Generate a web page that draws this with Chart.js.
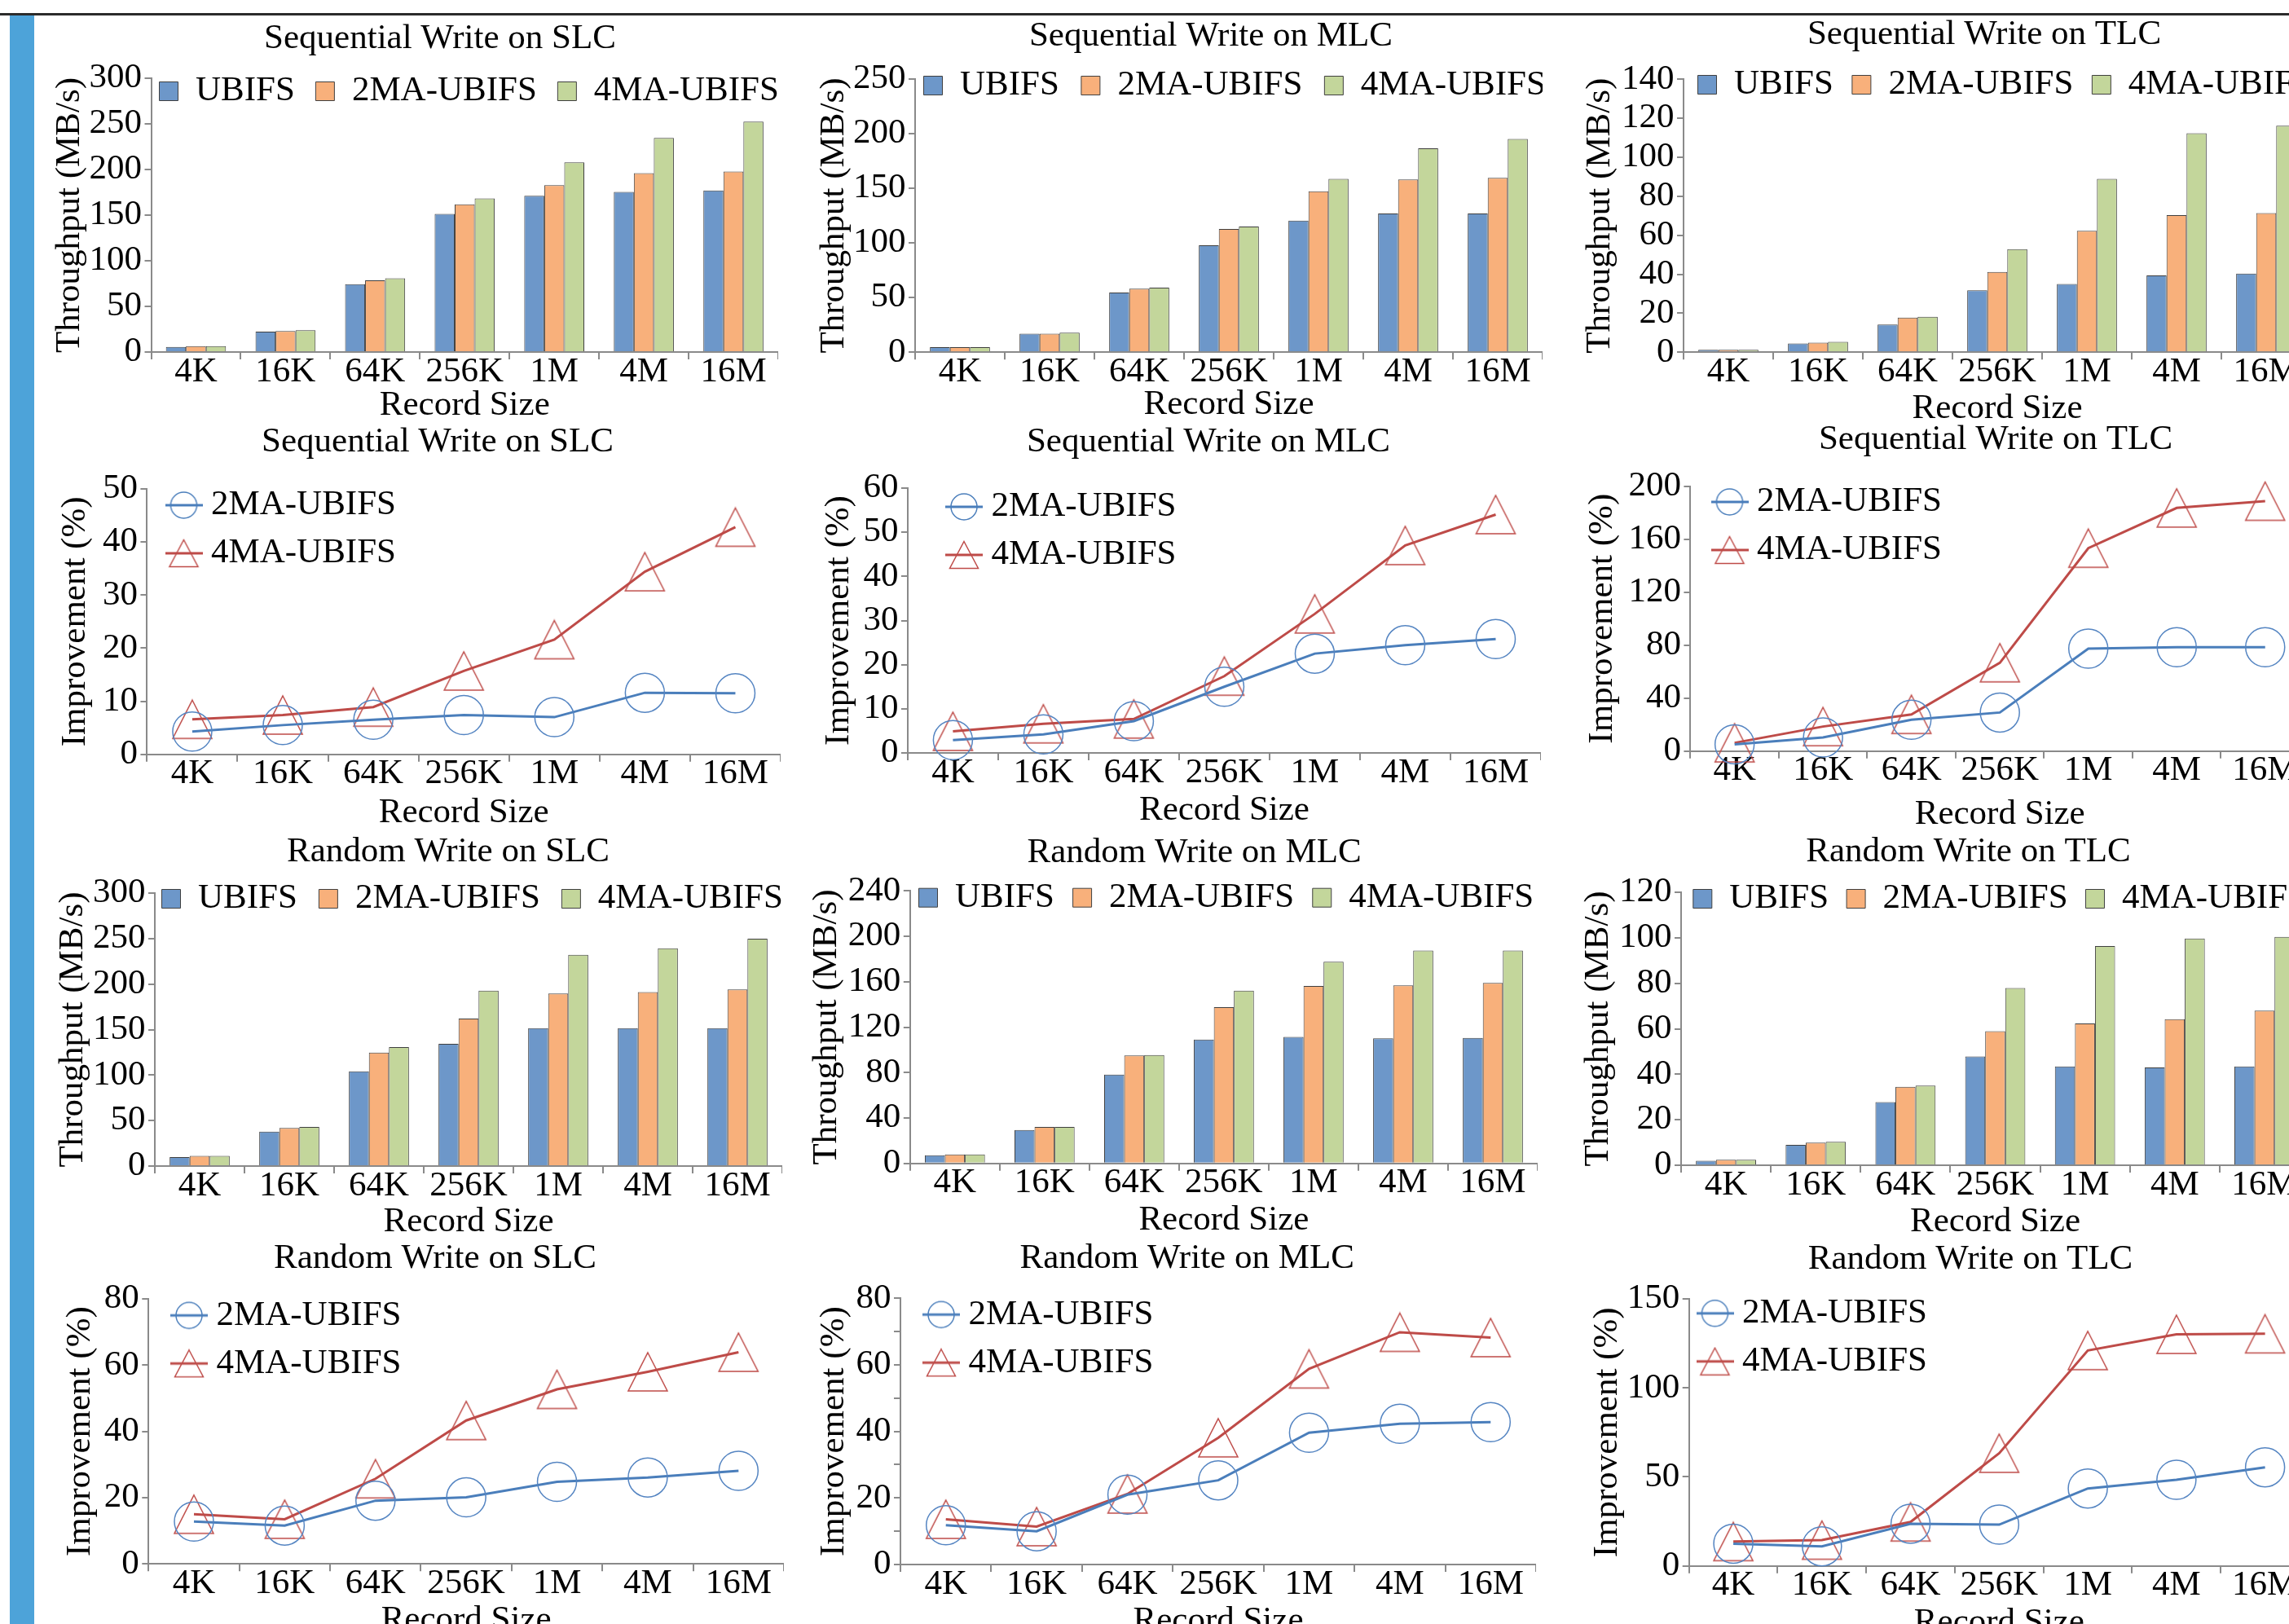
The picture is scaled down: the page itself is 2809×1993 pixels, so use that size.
<!DOCTYPE html>
<html>
<head>
<meta charset="utf-8">
<script src="https://cdn.jsdelivr.net/npm/chart.js@4.4.1/dist/chart.umd.min.js"></script>
<style>
html, body { margin: 0; padding: 0; width: 2809px; height: 1993px; overflow: hidden; background: #fff; }
#page { position: relative; width: 2809px; height: 1993px; overflow: hidden; background: #fff; }
#topRule { position: absolute; left: 0; top: 16px; width: 2809px; height: 3px; background: #2b2b2b; }
#sideBar { position: absolute; left: 12px; top: 19px; width: 30px; height: 1974px; background: #4da3d9; }
canvas { position: absolute; }
</style>
</head>
<body>
<div id="page">
  <div id="topRule"></div>
  <div id="sideBar"></div>
</div>
<script>
// x axis categories
const recordSizes = ['4K', '16K', '64K', '256K', '1M', '4M', '16M'];
const barNames = ['UBIFS', '2MA-UBIFS', '4MA-UBIFS'];
const lineNames = ['2MA-UBIFS', '4MA-UBIFS'];

// throughput (MB/s), sequential write
const seqSlcUbifs = [5.6, 22.3, 74.3, 151.4, 171.3, 175.4, 176.9];
const seqSlc2ma   = [6.5, 22.9, 78.5, 161.8, 182.9, 196.0, 197.7];
const seqSlc4ma   = [6.5, 23.8, 80.9, 168.3, 207.8, 234.6, 252.5];
const seqMlcUbifs = [4.7, 16.9, 54.6, 97.8, 120.4, 126.9, 126.9];
const seqMlc2ma   = [4.7, 16.9, 58.1, 112.7, 147.2, 157.9, 159.4];
const seqMlc4ma   = [4.7, 17.9, 59.1, 114.9, 158.6, 186.4, 195.1];
const seqTlcUbifs = [1.25, 4.5, 14.2, 31.8, 35.0, 39.4, 40.3];
const seqTlc2ma   = [1.25, 4.9, 17.8, 41.2, 62.3, 70.3, 71.4];
const seqTlc4ma   = [1.25, 5.3, 18.2, 52.9, 88.9, 112.3, 116.2];

// throughput (MB/s), random write
const rndSlcUbifs = [9.9, 37.9, 104.2, 134.3, 151.6, 151.6, 151.6];
const rndSlc2ma   = [11.3, 41.8, 124.8, 162.1, 189.6, 191.3, 194.0];
const rndSlc4ma   = [11.3, 43.0, 130.7, 192.8, 232.2, 239.4, 249.9];
const rndMlcUbifs = [7.2, 29.4, 78.2, 109.1, 111.3, 110.1, 110.5];
const rndMlc2ma   = [7.9, 32.1, 95.0, 137.6, 156.3, 156.8, 158.9];
const rndMlc4ma   = [7.9, 32.1, 95.5, 152.2, 177.6, 187.4, 187.4];
const rndTlcUbifs = [2.0, 9.0, 27.8, 47.8, 43.4, 43.0, 43.4];
const rndTlc2ma   = [2.4, 9.9, 34.5, 58.9, 62.3, 64.2, 68.0];
const rndTlc4ma   = [2.4, 10.3, 35.0, 77.9, 96.4, 99.7, 100.4];

// improvement (%) over UBIFS
const seqSlcImp2 = [4.3, 5.5, 6.5, 7.4, 7.0, 11.6, 11.5];
const seqSlcImp4 = [6.6, 7.4, 8.9, 15.7, 21.6, 34.4, 42.8];
const seqMlcImp2 = [2.9, 4.2, 7.2, 15.0, 22.5, 24.4, 25.8];
const seqMlcImp4 = [4.9, 6.6, 7.7, 17.4, 31.5, 47.0, 54.0];
const seqTlcImp2 = [5.1, 10.3, 23.6, 29.1, 77.3, 78.4, 78.4];
const seqTlcImp4 = [6.2, 18.5, 27.7, 66.7, 153.2, 183.6, 188.7];
const rndSlcImp2 = [12.8, 11.6, 19.1, 20.1, 24.8, 26.1, 28.1];
const rndSlcImp4 = [15.0, 13.5, 25.7, 43.3, 52.7, 58.0, 63.9];
const rndMlcImp2 = [11.8, 10.0, 21.0, 25.3, 39.6, 42.3, 42.8];
const rndMlcImp4 = [13.6, 11.4, 21.2, 38.1, 58.8, 69.8, 68.2];
const rndTlcImp2 = [12.5, 11.0, 23.7, 23.2, 43.5, 48.4, 55.4];
const rndTlcImp4 = [13.7, 14.5, 24.7, 63.3, 121.0, 130.1, 130.4];

const FS = 43;
const LH = FS * 1.2;
const AXIS = '#8a8a8a';
const barColors = ['#6d97c9', '#f8b07b', '#c3d69b'];
const lineBlue = '#4a7ebb';
const lineRed = '#be4b48';

Chart.defaults.font.family = "'Liberation Serif', 'Times New Roman', serif";
Chart.defaults.font.size = FS;
Chart.defaults.color = '#000';

// marker images
function triangleImg(w, h, color, lw) {
    const c = document.createElement('canvas');
    c.width = w + 4; c.height = h + 4;
    const g = c.getContext('2d');
    g.strokeStyle = color; g.lineWidth = lw;
    g.beginPath();
    g.moveTo(c.width / 2, 2);
    g.lineTo(c.width - 2, h + 2);
    g.lineTo(2, h + 2);
    g.closePath();
    g.stroke();
    return c;
}
function legendIcon(kind, lineColor) {
    const c = document.createElement('canvas');
    c.width = 46; c.height = 36;
    const g = c.getContext('2d');
    g.strokeStyle = lineColor; g.lineWidth = 3;
    g.beginPath(); g.moveTo(0, 18); g.lineTo(46, 18); g.stroke();
    g.lineWidth = 1.5;
    g.beginPath();
    if (kind === 'circle') {
        g.arc(23, 18, 16, 0, Math.PI * 2);
    } else {
        g.moveTo(23, 1.5); g.lineTo(40.5, 34.5); g.lineTo(5.5, 34.5); g.closePath();
    }
    g.stroke();
    return c;
}
const triMark = triangleImg(48, 47, lineRed, 1.5);
const legendIcons = [legendIcon('circle', lineBlue), legendIcon('triangle', lineRed)];

// title and legend sit inside the plot like the original, so they take no layout space
function placeBoxes(spec, cl, ct) {
    return {
        id: 'placeBoxes',
        beforeLayout(chart) {
            [chart.titleBlock, chart.legend].forEach(box => {
                if (box && !box._noSpace) {
                    const update = box.update;
                    box.update = function (...args) {
                        update.apply(this, args);
                        this.height = 0;
                        this.bottom = this.top;
                    };
                    box._noSpace = true;
                }
            });
        },
        afterLayout(chart) {
            const t = chart.titleBlock;
            t.left = spec.titleX - cl - 500; t.right = t.left + 1000; t.width = 1000;
            t.top = spec.titleY - ct - LH / 2; t.bottom = t.top + LH; t.height = LH;
            const l = chart.legend;
            const p = l.options.labels.padding;
            l.left = spec.legX - cl - p; l.right = l.left + spec.legW; l.width = spec.legW;
            l.top = spec.legY - ct - FS / 2 - p; l.bottom = l.top + 300; l.height = 300;
        }
    };
}

function makeChart(spec) {
    const cl = Math.round(spec.yTitleX - LH / 2);
    const ct = spec.top;
    const cw = Math.round(spec.area.r - cl);
    const ch = Math.round(spec.recY + LH / 2 - ct);
    const canvas = document.createElement('canvas');
    canvas.width = cw; canvas.height = ch;
    canvas.style.left = cl + 'px'; canvas.style.top = ct + 'px';
    canvas.style.width = cw + 'px'; canvas.style.height = ch + 'px';
    document.getElementById('page').appendChild(canvas);

    const isBar = spec.type === 'bar';
    let datasets, legendLabels;
    if (isBar) {
        datasets = spec.series.map((vals, i) => ({
            label: barNames[i],
            data: vals,
            backgroundColor: barColors[i],
            borderColor: '#404040',
            borderWidth: 1,
            barPercentage: 1,
            categoryPercentage: 0.67
        }));
        legendLabels = { boxWidth: 23, boxHeight: 23, padding: spec.legPad, font: { size: FS }, color: '#000' };
    } else {
        datasets = [
            { label: lineNames[0], data: spec.series[0], borderColor: lineBlue, borderWidth: 3,
              pointStyle: 'circle', pointRadius: 24, pointBorderColor: '#5585c2', pointBorderWidth: 1.5,
              pointBackgroundColor: 'rgba(0,0,0,0)', tension: 0, clip: false },
            { label: lineNames[1], data: spec.series[1], borderColor: lineRed, borderWidth: 3,
              pointStyle: triMark, pointRadius: 24, pointBackgroundColor: 'rgba(0,0,0,0)',
              tension: 0, clip: false }
        ];
        legendLabels = {
            usePointStyle: true, pointStyleWidth: 24, padding: 16, font: { size: FS }, color: '#000',
            generateLabels(chart) {
                const items = Chart.defaults.plugins.legend.labels.generateLabels(chart);
                items.forEach((it, i) => { it.pointStyle = legendIcons[i]; });
                return items;
            }
        };
    }

    new Chart(canvas, {
        type: spec.type,
        data: { labels: recordSizes, datasets },
        plugins: [placeBoxes(spec, cl, ct)],
        options: {
            responsive: false,
            devicePixelRatio: 1,
            animation: false,
            events: [],
            layout: { autoPadding: false, padding: { top: spec.area.t - ct, left: 0, right: 0, bottom: 0 } },
            plugins: {
                title: { display: true, text: spec.title, font: { size: FS, weight: 'normal' }, color: '#000', padding: 0 },
                legend: { display: true, position: 'top', align: 'start', labels: legendLabels },
                tooltip: { enabled: false }
            },
            scales: {
                x: {
                    type: 'category',
                    offset: true,
                    grid: { display: true, offset: true, drawOnChartArea: false, drawTicks: true,
                            tickLength: 9, color: AXIS, lineWidth: 2, tickWidth: 2 },
                    border: { display: true, color: AXIS, width: 2 },
                    ticks: { color: '#000', font: { size: FS, lineHeight: 1 }, padding: -6,
                             maxRotation: 0, autoSkip: false },
                    title: { display: true, text: 'Record Size', color: '#000', font: { size: FS }, padding: 0 },
                    afterFit(s) { s.height = ct + ch - spec.area.b; }
                },
                y: {
                    min: 0,
                    max: spec.yMax,
                    grid: { display: true, drawOnChartArea: false, drawTicks: true,
                            tickLength: 8, color: AXIS, lineWidth: 2, tickWidth: 2 },
                    border: { display: true, color: AXIS, width: 2 },
                    ticks: { stepSize: spec.yStep, padding: 3.5, color: '#000', font: { size: FS },
                             autoSkip: false,
                             callback: spec.yLabelEvery
                                 ? (v) => (v % spec.yLabelEvery === 0 ? v : '')
                                 : (v) => v },
                    title: { display: true, text: spec.yTitle, color: '#000', font: { size: FS }, padding: 0 },
                    afterFit(s) { s.width = spec.area.l - cl; }
                }
            }
        }
    });
}

const TP = 'Throughput (MB/s)';
const IMP = 'Improvement (%)';

// row 1: sequential write throughput
makeChart({ type: 'bar', title: 'Sequential Write on SLC', yTitle: TP, series: [seqSlcUbifs, seqSlc2ma, seqSlc4ma],
    yMax: 300, yStep: 50, top: 0, area: { l: 185.5, r: 955, t: 96, b: 432 }, yTitleX: 86,
    titleX: 540, titleY: 48, legX: 195.5, legY: 112, legPad: 25.5, legW: 1000, recY: 498 });
makeChart({ type: 'bar', title: 'Sequential Write on MLC', yTitle: TP, series: [seqMlcUbifs, seqMlc2ma, seqMlc4ma],
    yMax: 250, yStep: 50, top: 0, area: { l: 1123, r: 1893, t: 96.7, b: 432.3 }, yTitleX: 1024,
    titleX: 1486, titleY: 45, legX: 1133.5, legY: 105, legPad: 27, legW: 1000, recY: 497 });
makeChart({ type: 'bar', title: 'Sequential Write on TLC', yTitle: TP, series: [seqTlcUbifs, seqTlc2ma, seqTlc4ma],
    yMax: 140, yStep: 20, top: 0, area: { l: 2066, r: 2836, t: 97.3, b: 432.3 }, yTitleX: 1964,
    titleX: 2435, titleY: 43, legX: 2083.5, legY: 104, legPad: 23, legW: 1000, recY: 501.7 });

// row 2: sequential write improvement
makeChart({ type: 'line', title: 'Sequential Write on SLC', yTitle: IMP, series: [seqSlcImp2, seqSlcImp4],
    yMax: 50, yStep: 10, top: 515, area: { l: 180.4, r: 957.6, t: 600, b: 925.7 }, yTitleX: 93,
    titleX: 537, titleY: 543, legX: 213.5, legY: 620, legW: 350, recY: 998 });
makeChart({ type: 'line', title: 'Sequential Write on MLC', yTitle: IMP, series: [seqMlcImp2, seqMlcImp4],
    yMax: 60, yStep: 10, top: 515, area: { l: 1113.9, r: 1891, t: 599, b: 924 }, yTitleX: 1030,
    titleX: 1483, titleY: 543, legX: 1171, legY: 622, legW: 350, recY: 995 });
makeChart({ type: 'line', title: 'Sequential Write on TLC', yTitle: IMP, series: [seqTlcImp2, seqTlcImp4],
    yMax: 200, yStep: 40, top: 515, area: { l: 2074.4, r: 2834, t: 596.7, b: 921.7 }, yTitleX: 1967,
    titleX: 2449, titleY: 540, legX: 2110.5, legY: 616, legW: 350, recY: 1000 });

// row 3: random write throughput
makeChart({ type: 'bar', title: 'Random Write on SLC', yTitle: TP, series: [rndSlcUbifs, rndSlc2ma, rndSlc4ma],
    yMax: 300, yStep: 50, top: 1015, area: { l: 190, r: 959.6, t: 1096, b: 1431 }, yTitleX: 90,
    titleX: 550, titleY: 1046, legX: 198.5, legY: 1103, legPad: 26.5, legW: 1000, recY: 1500 });
makeChart({ type: 'bar', title: 'Random Write on MLC', yTitle: TP, series: [rndMlcUbifs, rndMlc2ma, rndMlc4ma],
    yMax: 240, yStep: 40, top: 1015, area: { l: 1116.8, r: 1886.7, t: 1093.3, b: 1427.7 }, yTitleX: 1015,
    titleX: 1465.6, titleY: 1046.7, legX: 1127.5, legY: 1101.7, legPad: 22.7, legW: 1000, recY: 1498 });
makeChart({ type: 'bar', title: 'Random Write on TLC', yTitle: TP, series: [rndTlcUbifs, rndTlc2ma, rndTlc4ma],
    yMax: 120, yStep: 20, top: 1015, area: { l: 2063, r: 2834, t: 1095, b: 1430 }, yTitleX: 1961.6,
    titleX: 2415.5, titleY: 1046, legX: 2077.8, legY: 1103, legPad: 21.9, legW: 1000, recY: 1500 });

// row 4: random write improvement
makeChart({ type: 'line', title: 'Random Write on SLC', yTitle: IMP, series: [rndSlcImp2, rndSlcImp4],
    yMax: 80, yStep: 20, top: 1515, area: { l: 182.3, r: 961.5, t: 1594, b: 1919.3 }, yTitleX: 99,
    titleX: 534, titleY: 1545, legX: 220, legY: 1614.3, legW: 350, recY: 1989 });
makeChart({ type: 'line', title: 'Random Write on MLC', yTitle: IMP, series: [rndMlcImp2, rndMlcImp4],
    yMax: 80, yStep: 10, yLabelEvery: 20, top: 1515, area: { l: 1105, r: 1884.9, t: 1593.3, b: 1920 }, yTitleX: 1023.7,
    titleX: 1456.7, titleY: 1545, legX: 1143, legY: 1613.3, legW: 350, recY: 1990 });
makeChart({ type: 'line', title: 'Random Write on TLC', yTitle: IMP, series: [rndTlcImp2, rndTlcImp4],
    yMax: 150, yStep: 50, top: 1515, area: { l: 2072.7, r: 2834, t: 1594, b: 1921.7 }, yTitleX: 1973,
    titleX: 2418, titleY: 1546, legX: 2092.5, legY: 1611.7, legW: 350, recY: 1992 });
</script>
</body>
</html>
